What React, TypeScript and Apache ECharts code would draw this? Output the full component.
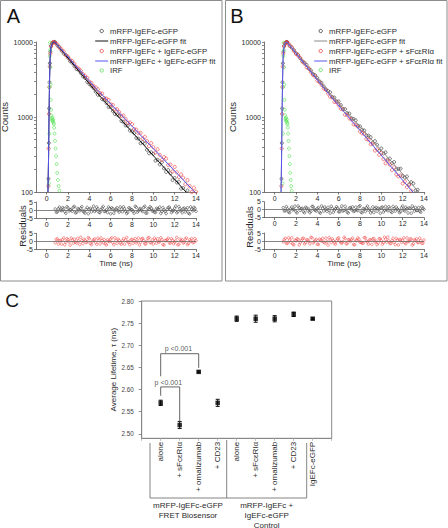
import React, { useEffect, useRef } from "react";
import * as echarts from "echarts";

// ---------------- data ----------------
const X_TICKS = [0, 2, 4, 6, 8, 10, 12, 14];
const COUNT_LABELS = [100, 1000, 10000];
const COUNT_TICKS = [100, 200, 300, 400, 500, 600, 700, 800, 900, 1000, 2000, 3000, 4000, 5000, 6000, 7000, 8000, 9000, 10000];
const C_Y_TICKS = [2.5, 2.55, 2.6, 2.65, 2.7, 2.75, 2.8];

const LEGEND_A = ["mRFP-IgEFc-eGFP", "mRFP-IgEFc-eGFP fit", "mRFP-IgEFc + IgEFc-eGFP", "mRFP-IgEFc + IgEFc-eGFP fit", "IRF"];
const LEGEND_B = ["mRFP-IgEFc-eGFP", "mRFP-IgEFc-eGFP fit", "mRFP-IgEFc-eGFP + sFcεRIα", "mRFP-IgEFc-eGFP + sFcεRIα fit", "IRF"];

const DECAY_TIME_A = [0.8, 1, 1.2, 1.4, 1.6, 1.8, 2, 2.2, 2.4, 2.6, 2.8, 3, 3.2, 3.4, 3.6, 3.8, 4, 4.2, 4.4, 4.6, 4.8, 5, 5.2, 5.4, 5.6, 5.8, 6, 6.2, 6.4, 6.6, 6.8, 7, 7.2, 7.4, 7.6, 7.8, 8, 8.2, 8.4, 8.6, 8.8, 9, 9.2, 9.4, 9.6, 9.8, 10, 10.2, 10.4, 10.6, 10.8, 11, 11.2, 11.4, 11.6, 11.8, 12, 12.2, 12.4, 12.6, 12.8, 13, 13.2, 13.4, 13.6, 13.8, 14];
const DECAY_TIME_B = [1.2, 1.4, 1.6, 1.8, 2, 2.2, 2.4, 2.6, 2.8, 3, 3.2, 3.4, 3.6, 3.8, 4, 4.2, 4.4, 4.6, 4.8, 5, 5.2, 5.4, 5.6, 5.8, 6, 6.2, 6.4, 6.6, 6.8, 7, 7.2, 7.4, 7.6, 7.8, 8, 8.2, 8.4, 8.6, 8.8, 9, 9.2, 9.4, 9.6, 9.8, 10, 10.2, 10.4, 10.6, 10.8, 11, 11.2, 11.4, 11.6, 11.8, 12, 12.2, 12.4, 12.6, 12.8, 13, 13.2, 13.4, 13.6, 13.8, 14];
const RESID_TIME = DECAY_TIME_A;
const RESID_TIME_MID = [0.9, 1.1, 1.3, 1.5, 1.7, 1.9, 2.1, 2.3, 2.5, 2.7, 2.9, 3.1, 3.3, 3.5, 3.7, 3.9, 4.1, 4.3, 4.5, 4.7, 4.9, 5.1, 5.3, 5.5, 5.7, 5.9, 6.1, 6.3, 6.5, 6.7, 6.9, 7.1, 7.3, 7.5, 7.7, 7.9, 8.1, 8.3, 8.5, 8.7, 8.9, 9.1, 9.3, 9.5, 9.7, 9.9, 10.1, 10.3, 10.5, 10.7, 10.9, 11.1, 11.3, 11.5, 11.7, 11.9, 12.1, 12.3, 12.5, 12.7, 12.9, 13.1, 13.3, 13.5, 13.7, 13.9];

// Panel A
const A_K_RISE = [[0.17, 150], [0.2, 450], [0.23, 1300], [0.26, 2900], [0.3, 5200], [0.35, 7400], [0.42, 8900], [0.5, 9600], [0.6, 9900], [0.7, 10000]];
const A_K_DECAY = [9990, 8966, 8537, 7658, 7006, 6673, 6167, 5530, 5267, 4772, 4365, 4199, 3842, 3481, 3314, 2943, 2747, 2591, 2417, 2168, 1975, 1969, 1724, 1685, 1536, 1357, 1353, 1198, 1091, 1077, 1030, 885, 856, 772, 762, 661, 646, 607, 525, 514, 445, 462, 442, 365, 328, 338, 323, 261, 269, 233, 249, 206, 185, 196, 177, 144, 154, 134, 137, 111, 113, 95, 105, 84, 87, 70, 72];
const A_K_FIT = [[0.12, 100], [0.18, 300], [0.22, 1000], [0.27, 3000], [0.32, 6000], [0.4, 8500], [0.5, 9500], [0.62, 9950], [0.75, 10000], [4.6, 2190], [14, 71]];
const A_R_RISE = [[0.16, 120], [0.19, 380], [0.22, 1100], [0.25, 2500], [0.29, 4700], [0.34, 7000], [0.41, 8700], [0.49, 9500], [0.59, 9900], [0.69, 10000]];
const A_R_DECAY = [9722, 9306, 8392, 7955, 7464, 6663, 6380, 5810, 5562, 5117, 4613, 4417, 4144, 3737, 3543, 3324, 2967, 2841, 2588, 2477, 2335, 2074, 2055, 1790, 1756, 1688, 1471, 1443, 1256, 1270, 1163, 1032, 1044, 937, 840, 841, 800, 691, 678, 608, 613, 514, 545, 476, 410, 448, 395, 336, 371, 312, 268, 291, 279, 228, 232, 188, 216, 183, 158, 171, 155, 127, 144, 120, 100, 114, 101];
const A_R_FIT = [[0.12, 100], [0.18, 300], [0.22, 1000], [0.27, 3000], [0.32, 6000], [0.4, 8500], [0.5, 9500], [0.62, 9950], [0.75, 10000], [4.6, 2428], [14, 96]];
const A_IRF = [[0.22, 130], [0.25, 600], [0.27, 2500], [0.29, 6500], [0.31, 9800], [0.33, 7800], [0.35, 4600], [0.37, 2700], [0.39, 1700], [0.42, 1250], [0.45, 1050], [0.48, 950], [0.52, 900], [0.55, 980], [0.58, 870], [0.61, 920], [0.64, 840], [0.67, 800], [0.7, 720], [0.74, 600], [0.78, 480], [0.83, 380], [0.88, 300], [0.93, 235], [0.99, 180], [1.05, 145], [1.12, 120], [1.2, 104]];
const A_K_RESID = [0.6, -1.2, 1.8, -0.4, 0.9, -2.1, 1.3, 0.2, -0.8, 2.2, -1.5, 0.4, 1.1, -0.6, -1.9, 1.6, 0.3, -1.1, 2.4, -0.2, 0.7, -1.6, 1.2, -0.9, 0.1, 1.9, -2.3, 0.8, -0.3, 1.4, -1.3, 0.5, 2.0, -0.7, -1.4, 1.0, 0.2, -2.0, 1.7, -0.5, 0.9, -1.0, 2.3, -1.8, 0.4, 1.2, -0.2, -1.5, 0.6, 1.8, -0.9, 0.1, -2.2, 1.5, 0.3, -0.6, 1.1, -1.7, 2.1, -0.4, 0.8, -1.2, 1.4, -2.4, 0.5, 1.6, -0.8];
const A_K_RESID_MID = [-1.4, 0.8, -0.2, 1.5, -1.0, 2.0, -0.6, 0.3, 1.7, -1.8, 0.9, -0.5, 2.1, -1.2, 0.4, -2.3, 1.0, 0.6, -0.9, 1.8, -1.5, 0.2, 2.2, -0.7, -1.6, 0.9, 1.3, -2.0, 0.5, -0.4, 1.9, -1.1, 0.7, -2.2, 1.4, 0.1, -0.8, 2.3, -1.3, 0.6, -0.2, 1.6, -1.9, 0.8, 2.0, -0.6, -1.4, 1.1, 0.3, -2.1, 1.5, -0.9, 0.4, 1.8, -1.6, -0.3, 2.4, -1.0, 0.7, -1.7, 1.2, 0.0, -2.0, 1.9, -0.5, 1.0];
const A_R_RESID = [-0.9, 1.5, 0.3, -1.8, 2.1, -0.5, 1.0, -2.4, 0.7, 1.3, -1.1, 0.2, 2.5, -1.4, 0.6, -0.3, 1.7, -2.0, 0.9, -0.7, 1.9, -1.6, 0.4, 1.1, -2.2, 0.0, 1.4, -0.8, 2.2, -1.3, 0.5, -1.9, 1.6, 0.8, -0.4, -2.1, 1.2, 0.3, -1.0, 2.0, -0.6, 1.8, -1.5, 0.1, 2.3, -0.9, -1.7, 0.7, 1.5, -0.2, 1.0, -2.3, 0.4, 1.9, -1.2, 0.6, -0.5, 2.4, -1.8, 0.2, -1.0, 1.3, -2.0, 0.9, 1.7, -0.6, 0.3];
const A_R_RESID_MID = [1.1, -1.7, 0.5, 0.9, -2.2, 1.6, -0.3, 2.0, -1.1, -0.5, 1.8, -2.0, 0.3, 1.2, -0.8, 2.3, -1.4, 0.0, 1.5, -1.9, 0.7, 2.1, -0.9, -1.5, 1.0, -0.2, 2.2, -2.1, 0.6, 1.3, -1.0, 0.2, -1.8, 2.4, -0.6, 0.9, -1.3, 1.7, -0.1, -2.3, 1.4, 0.4, -1.6, 2.0, -0.7, 0.8, 1.9, -1.2, -0.4, 2.2, -2.0, 0.5, 1.1, -0.9, 1.6, -1.5, 0.3, -2.2, 1.3, 0.9, -0.6, 2.1, -1.4, 0.2, -0.8, 1.7];

// Panel B
const B_K_RISE = [[0.64, 150], [0.67, 450], [0.7, 1300], [0.73, 2900], [0.77, 5200], [0.82, 7400], [0.89, 8900], [0.97, 9600], [1.07, 9900], [1.15, 10000]];
const B_K_DECAY = [9904, 8885, 8466, 7828, 7093, 6758, 6064, 5550, 5288, 4938, 4431, 4179, 3749, 3608, 3304, 2994, 2852, 2559, 2342, 2232, 2137, 1854, 1813, 1619, 1613, 1442, 1275, 1272, 1125, 1111, 963, 941, 901, 766, 749, 676, 661, 567, 566, 537, 456, 477, 427, 355, 381, 326, 338, 271, 279, 242, 251, 200, 204, 205, 164, 156, 161, 126, 135, 130, 105, 107, 89, 98, 82];
const B_K_FIT = [[0.6, 100], [0.65, 300], [0.69, 1000], [0.74, 3000], [0.79, 6000], [0.87, 8500], [0.97, 9500], [1.07, 9950], [1.15, 10000], [5.0, 2210], [14, 84]];
const B_R_RISE = [[0.63, 120], [0.66, 380], [0.69, 1100], [0.72, 2500], [0.76, 4700], [0.81, 7000], [0.88, 8700], [0.96, 9500], [1.06, 9900], [1.14, 10000]];
const B_R_DECAY = [9700, 9120, 8488, 7593, 6928, 6580, 6124, 5478, 5150, 4606, 4418, 3952, 3642, 3459, 3063, 2909, 2681, 2397, 2299, 2057, 1867, 1820, 1587, 1577, 1433, 1288, 1267, 1072, 1066, 959, 924, 798, 785, 743, 641, 607, 596, 510, 497, 433, 439, 357, 370, 313, 333, 275, 241, 260, 232, 196, 213, 172, 162, 166, 130, 138, 116, 123, 104, 89, 96, 87, 72, 76, 62];
const B_R_FIT = [[0.6, 100], [0.65, 300], [0.69, 1000], [0.74, 3000], [0.79, 6000], [0.87, 8500], [0.97, 9500], [1.07, 9950], [1.15, 10000], [5.0, 2078], [14, 67]];
const B_IRF = [[0.75, 130], [0.78, 600], [0.8, 2500], [0.82, 6500], [0.84, 9800], [0.86, 7800], [0.88, 4600], [0.9, 2700], [0.92, 1700], [0.95, 1250], [0.98, 1050], [1.01, 950], [1.05, 900], [1.08, 980], [1.11, 870], [1.14, 920], [1.17, 840], [1.2, 800], [1.23, 720], [1.26, 600], [1.3, 480], [1.34, 380], [1.38, 300], [1.42, 235], [1.46, 180], [1.5, 145], [1.55, 120], [1.6, 104]];
const B_K_RESID = [1.2, -0.7, 0.4, -1.9, 1.6, 0.1, -1.3, 2.2, -0.5, 0.8, -2.0, 1.0, 0.3, -1.1, 1.9, -0.4, 0.6, -1.7, 2.3, -0.9, 0.2, 1.4, -2.2, 0.7, -0.3, 1.8, -1.4, 0.5, -0.8, 2.1, -1.6, 0.9, 0.0, -1.2, 1.5, -0.6, 2.4, -1.9, 0.3, 1.1, -0.4, -2.1, 1.7, 0.6, -1.0, 0.2, 1.3, -1.5, 2.0, -0.7, 0.8, -1.8, 0.4, 1.6, -0.2, -1.3, 2.2, -0.9, 0.5, 1.0, -2.3, 0.7, 1.4, -0.5, -1.1, 1.8, 0.1];
const B_K_RESID_MID = [-0.8, 1.9, -1.5, 0.4, -0.1, 2.2, -2.0, 1.1, 0.6, -1.3, 1.5, -0.6, -1.9, 2.0, 0.2, -0.9, 1.3, -2.2, 0.8, 1.6, -1.1, -0.3, 2.1, -1.7, 0.5, 0.9, -1.4, 2.3, -0.5, 0.1, -2.1, 1.2, 1.7, -0.8, -0.2, 1.9, -1.6, 0.6, -1.2, 2.2, 0.3, -0.7, -1.8, 1.4, 0.9, -2.3, 1.6, -0.4, 0.0, 1.8, -1.3, 2.0, -0.9, 0.4, -1.9, 1.1, -0.2, 1.5, -2.1, 0.7, 2.3, -1.0, -0.5, 1.3, -1.6, 0.8];
const B_R_RESID = [-0.4, 1.7, -1.3, 0.6, 2.0, -2.2, 0.3, 1.1, -0.8, 1.5, -1.7, 0.9, -0.1, 2.3, -1.0, 0.5, -1.9, 1.2, 0.0, -0.6, 1.8, -2.4, 0.7, 1.4, -1.2, 0.2, 2.1, -0.9, -0.3, 1.6, -1.5, 0.8, 1.0, -2.0, 0.4, 1.9, -0.7, -1.1, 2.2, 0.1, -1.8, 0.6, 1.3, -0.5, -2.1, 1.5, 0.3, -0.9, 1.1, 2.4, -1.4, 0.2, -0.6, 1.7, -2.3, 0.9, 0.5, -1.0, 2.0, -0.2, 1.2, -1.6, 0.4, -0.8, 1.8, -1.3, 0.7];
const B_R_RESID_MID = [0.9, -1.4, 2.1, -0.6, -1.8, 0.5, 1.4, -2.3, 0.2, 1.8, -0.9, 0.7, -1.6, 2.0, -0.3, 1.1, -2.0, 0.6, 1.7, -1.2, -0.4, 2.2, -0.8, 0.3, -1.9, 1.5, 0.0, -1.1, 2.3, -1.5, 0.8, -0.2, 1.9, -2.2, 0.4, 1.2, -0.7, -1.3, 2.1, -0.5, 0.9, -2.0, 1.6, 0.1, -1.0, 1.4, -1.8, 2.4, -0.6, 0.2, -1.4, 1.7, -2.1, 0.6, 1.0, -0.8, 2.0, -1.6, -0.1, 1.3, -2.4, 0.7, 1.5, -0.9, 0.3, -1.2];

// Panel C
const C_CATEGORIES = ["alone", "+ sFcεRIα", "+ omalizumab", "+ CD23", "alone", "+ sFcεRIα", "+ omalizumab", "+ CD23", "IgEFc-eGFP"];
const C_POSITIONS = [1, 2, 3, 4, 5, 6, 7, 8, 9];
const C_MEANS = [2.57, 2.52, 2.64, 2.57, 2.76, 2.76, 2.76, 2.77, 2.76];
const C_ERRORS = [0.006, 0.008, 0.002, 0.008, 0.006, 0.008, 0.007, 0.005, 0.002];
const BRACKET_1 = [[1, 2.586], [1, 2.606], [2, 2.606], [2, 2.528]];
const BRACKET_2 = [[1, 2.63], [1, 2.681], [3, 2.681], [3, 2.649]];
const P_LABELS = [
  { text: "p <0.001", pos: [1.4, 2.617] },
  { text: "p <0.001", pos: [1.93, 2.692] },
];
const GROUP_LABELS = ["mRFP-IgEFc-eGFP\nFRET Biosensor", "mRFP-IgEFc +\nIgEFc-eGFP\nControl"];

// ---------------- styling ----------------
const FONT = "'Liberation Sans', Arial, Helvetica, sans-serif";
const AXIS = "#555";
const TXT = "#2a2a2a";
const BLACK_C = "#333333";
const RED_C = "#f03a3a";
const BLUE_L = "#5656ee";
const GREEN_C = "#4ee04e";

const zip = (xs: number[], ys: number[]) => ys.slice(0, xs.length).map((y, i) => [xs[i], y]);

function timeAxis(gridIndex: number, name?: string) {
  return {
    type: "value",
    gridIndex,
    min: -1,
    max: 14,
    name: name || "",
    nameLocation: "middle",
    nameGap: 9,
    nameTextStyle: { fontSize: 8, color: TXT, fontFamily: FONT },
    axisLine: { show: true, onZero: false, lineStyle: { color: AXIS, width: 0.8 } },
    axisTick: { show: true, customValues: X_TICKS, length: 2.5, lineStyle: { color: AXIS, width: 0.8 } },
    axisLabel: { customValues: X_TICKS, fontSize: 7, color: TXT, margin: 2.5, fontFamily: FONT },
    splitLine: { show: false },
  };
}

function countAxis(gridIndex: number, nameGap: number) {
  return {
    type: "log",
    gridIndex,
    logBase: 10,
    min: 100,
    max: 10000,
    name: "Counts",
    nameLocation: "middle",
    nameRotate: 90,
    nameGap,
    nameTextStyle: { fontSize: 9.5, color: TXT, fontFamily: FONT },
    axisLine: { show: true, onZero: false, lineStyle: { color: AXIS, width: 0.8 } },
    axisTick: { show: true, customValues: COUNT_TICKS, length: 2, lineStyle: { color: AXIS, width: 0.7 } },
    axisLabel: { customValues: COUNT_LABELS, formatter: (v: number) => String(Math.round(v)), fontSize: 7, color: TXT, margin: 3, fontFamily: FONT },
    splitLine: { show: false },
  };
}

function residAxis(gridIndex: number) {
  return {
    type: "value",
    gridIndex,
    min: -5,
    max: 5,
    interval: 5,
    axisLine: { show: true, onZero: false, lineStyle: { color: AXIS, width: 0.8 } },
    axisTick: { show: true, length: 2, lineStyle: { color: AXIS, width: 0.7 } },
    axisLabel: { fontSize: 7, color: TXT, margin: 3, fontFamily: FONT },
    splitLine: { show: false },
  };
}

const hollow = (color: string, size: number, bw: number) => ({
  symbol: "circle",
  symbolSize: size,
  itemStyle: { color: "rgba(255,255,255,0)", borderColor: color, borderWidth: bw },
});

function scatter(name: string, axis: number, data: number[][], color: string, size = 3, bw = 0.7, extra: any = {}) {
  return { type: "scatter", name, xAxisIndex: axis, yAxisIndex: axis, data, silent: true, clip: true, ...hollow(color, size, bw), ...extra };
}
function fitLine(name: string, axis: number, data: number[][], color: string) {
  return { type: "line", name, xAxisIndex: axis, yAxisIndex: axis, data, symbol: "none", silent: true, clip: true, lineStyle: { color, width: 1 } };
}
const zeroLine = {
  silent: true,
  symbol: "none",
  label: { show: false },
  lineStyle: { color: "#666", width: 0.8, type: "solid" },
  data: [{ yAxis: 0 }],
};

function legendGraphics(names: string[], colors: string[], kinds: string[], symX: number, textX: number, rows: number[]) {
  const els: any[] = [];
  names.forEach((name, i) => {
    const y = rows[i];
    if (kinds[i] === "c") {
      els.push({ type: "circle", z: 100, shape: { cx: symX, cy: y, r: 1.7 }, style: { fill: "none", stroke: colors[i], lineWidth: 0.8 } });
    } else {
      els.push({ type: "line", z: 100, shape: { x1: symX - 6.5, y1: y, x2: symX + 6.5, y2: y }, style: { stroke: colors[i], lineWidth: 1 } });
    }
    els.push({ type: "text", z: 100, x: textX, y, style: { text: name, fontSize: 7.8, fill: TXT, fontFamily: FONT, align: "left", verticalAlign: "middle" } });
  });
  return els;
}

function txt(text: string, x: number, y: number, fontSize: number, extra: any = {}) {
  return { type: "text", z: 100, x, y, ...extra, style: { text, fontSize, fill: TXT, fontFamily: FONT, align: "center", verticalAlign: "middle", ...(extra.style || {}) } };
}

function buildOption() {
  const grids = [
    { left: 36, top: 42, width: 160, height: 150 },
    { left: 36, top: 202, width: 160, height: 16 },
    { left: 36, top: 233.3, width: 160, height: 16 },
    { left: 264, top: 42, width: 160, height: 150 },
    { left: 264, top: 201.7, width: 160, height: 15.8 },
    { left: 264, top: 233, width: 160, height: 16.3 },
    { left: 141.7, top: 301, width: 190, height: 137.3, show: true, borderColor: "#888", borderWidth: 1, backgroundColor: "rgba(0,0,0,0)" },
  ].map((g) => ({ ...g, containLabel: false, outerBoundsMode: "none" }));

  const xAxis: any[] = [
    timeAxis(0), timeAxis(1), timeAxis(2, "Time (ns)"),
    timeAxis(3), timeAxis(4), timeAxis(5, "Time (ns)"),
    {
      type: "value", gridIndex: 6, min: 0, max: 10, interval: 1,
      axisLine: { show: true, onZero: false, lineStyle: { color: "#888", width: 1 } },
      axisTick: { show: true, length: 2.5, lineStyle: { color: "#aaa", width: 0.8 } },
      axisLabel: {
        rotate: 90, fontSize: 8, color: TXT, margin: 3.5, fontFamily: FONT,
        formatter: (v: number) => C_CATEGORIES[Math.round(v) - 1] ?? "",
      },
      splitLine: { show: false },
    },
  ];
  const yAxis: any[] = [
    countAxis(0, 18), residAxis(1), residAxis(2),
    countAxis(3, 20), residAxis(4), residAxis(5),
    {
      type: "value", gridIndex: 6, min: 2.49, max: 2.8,
      name: "Average Lifetime, τ (ns)", nameLocation: "middle", nameRotate: 90, nameGap: 24.5,
      nameTextStyle: { fontSize: 8, color: TXT, fontFamily: FONT },
      axisLine: { show: true, onZero: false, lineStyle: { color: "#888", width: 1 } },
      axisTick: { show: true, customValues: C_Y_TICKS, length: 3, lineStyle: { color: "#777", width: 0.8 } },
      axisLabel: { customValues: C_Y_TICKS, formatter: (v: number) => v.toFixed(2), fontSize: 6.3, color: "#444", margin: 8, fontFamily: FONT },
      splitLine: { show: false },
    },
  ];

  const series: any[] = [
    // Panel A main
    scatter(LEGEND_A[0], 0, [...A_K_RISE, ...zip(DECAY_TIME_A, A_K_DECAY)], BLACK_C, 3, 0.8),
    fitLine(LEGEND_A[1], 0, A_K_FIT, "#111"),
    scatter(LEGEND_A[2], 0, [...A_R_RISE, ...zip(DECAY_TIME_A, A_R_DECAY)], RED_C, 3.2, 0.8),
    fitLine(LEGEND_A[3], 0, A_R_FIT, BLUE_L),
    scatter(LEGEND_A[4], 0, A_IRF, GREEN_C, 3, 0.8),
    // Panel A residuals
    scatter("A resid 1", 1, [...zip(RESID_TIME, A_K_RESID), ...zip(RESID_TIME_MID, A_K_RESID_MID)], BLACK_C, 2.6, 0.7, { markLine: zeroLine }),
    scatter("A resid 2", 2, [...zip(RESID_TIME, A_R_RESID), ...zip(RESID_TIME_MID, A_R_RESID_MID)], RED_C, 2.6, 0.7, { markLine: zeroLine }),
    // Panel B main
    scatter(LEGEND_B[0], 3, [...B_K_RISE, ...zip(DECAY_TIME_B, B_K_DECAY)], BLACK_C, 3, 0.8),
    fitLine(LEGEND_B[1], 3, B_K_FIT, "#8a8a8a"),
    scatter(LEGEND_B[2], 3, [...B_R_RISE, ...zip(DECAY_TIME_B, B_R_DECAY)], RED_C, 3.2, 0.8),
    fitLine(LEGEND_B[3], 3, B_R_FIT, BLUE_L),
    scatter(LEGEND_B[4], 3, B_IRF, GREEN_C, 3, 0.8),
    // Panel B residuals
    scatter("B resid 1", 4, [...zip(RESID_TIME, B_K_RESID), ...zip(RESID_TIME_MID, B_K_RESID_MID)], BLACK_C, 2.6, 0.7, { markLine: zeroLine }),
    scatter("B resid 2", 5, [...zip(RESID_TIME, B_R_RESID), ...zip(RESID_TIME_MID, B_R_RESID_MID)], RED_C, 2.6, 0.7, { markLine: zeroLine }),
    // Panel C
    {
      type: "custom", xAxisIndex: 6, yAxisIndex: 6, silent: true,
      data: C_MEANS.map((m, i) => [C_POSITIONS[i], m, C_ERRORS[i]]),
      encode: { x: 0, y: 1 },
      renderItem: (_p: any, api: any) => {
        const x = api.value(0), y = api.value(1), e = api.value(2);
        const top = api.coord([x, y + e]);
        const bot = api.coord([x, y - e]);
        const hw = 2;
        const style = { stroke: "#111", lineWidth: 1 };
        return {
          type: "group",
          children: [
            { type: "line", shape: { x1: top[0], y1: top[1], x2: bot[0], y2: bot[1] }, style },
            { type: "line", shape: { x1: top[0] - hw, y1: top[1], x2: top[0] + hw, y2: top[1] }, style },
            { type: "line", shape: { x1: bot[0] - hw, y1: bot[1], x2: bot[0] + hw, y2: bot[1] }, style },
          ],
        };
      },
    },
    {
      type: "scatter", xAxisIndex: 6, yAxisIndex: 6, silent: true, z: 5,
      data: C_MEANS.map((m, i) => [C_POSITIONS[i], m]),
      symbol: "rect", symbolSize: 4.5, itemStyle: { color: "#000" },
    },
    { type: "line", xAxisIndex: 6, yAxisIndex: 6, data: BRACKET_1, symbol: "none", silent: true, lineStyle: { color: "#555", width: 0.9 } },
    { type: "line", xAxisIndex: 6, yAxisIndex: 6, data: BRACKET_2, symbol: "none", silent: true, lineStyle: { color: "#555", width: 0.9 } },
    {
      type: "scatter", xAxisIndex: 6, yAxisIndex: 6, silent: true, symbolSize: 0,
      data: P_LABELS.map((p) => ({ value: p.pos, label: { formatter: p.text } })),
      label: { show: true, position: "inside", fontSize: 7, color: TXT, fontFamily: FONT },
    },
  ];

  const graphic: any[] = [
    // panel frames
    { type: "rect", z: 0, shape: { x: 0.5, y: 0.5, width: 221.5, height: 280.5 }, style: { fill: "none", stroke: "#8c8c8c", lineWidth: 1 } },
    { type: "rect", z: 0, shape: { x: 225.5, y: 0.5, width: 221.5, height: 280.5 }, style: { fill: "none", stroke: "#8c8c8c", lineWidth: 1 } },
    // panel letters
    txt("A", 13.5, 16, 20, { style: { fill: "#111" } }),
    txt("B", 237, 16, 20, { style: { fill: "#111" } }),
    txt("C", 12, 300, 19, { style: { fill: "#111" } }),
    // residual axis titles
    txt("Residuals", 22, 226, 9.5, { rotation: Math.PI / 2 }),
    txt("Residuals", 249, 227, 9.5, { rotation: Math.PI / 2 }),
    // legends
    ...legendGraphics(LEGEND_A, [BLACK_C, "#111", RED_C, BLUE_L, GREEN_C], ["c", "l", "c", "l", "c"], 101.7, 110, [31, 41, 51, 61, 70.5]),
    ...legendGraphics(LEGEND_B, [BLACK_C, "#8a8a8a", RED_C, BLUE_L, GREEN_C], ["c", "l", "c", "l", "c"], 320.7, 329, [31, 41, 51, 61, 70]),
    // group brackets in panel C
    { type: "polyline", z: 50, shape: { points: [[150, 443], [150, 498], [306.7, 498], [306.7, 443]] }, style: { fill: "none", stroke: "#666", lineWidth: 0.8 } },
    { type: "line", z: 50, shape: { x1: 226.7, y1: 440, x2: 226.7, y2: 498 }, style: { stroke: "#666", lineWidth: 0.8 } },
    txt(GROUP_LABELS[0], 188, 510, 8, { style: { lineHeight: 10 } }),
    txt(GROUP_LABELS[1], 266.7, 515, 8, { style: { lineHeight: 10 } }),
  ];

  return {
    animation: false,
    backgroundColor: "#ffffff",
    textStyle: { fontFamily: FONT },
    grid: grids,
    xAxis,
    yAxis,
    series,
    graphic,
  };
}

export default function App() {
  const ref = useRef<HTMLDivElement>(null);
  useEffect(() => {
    if (!ref.current) return;
    const chart = echarts.init(ref.current, undefined, { renderer: "svg" });
    chart.setOption(buildOption() as any);
    return () => chart.dispose();
  }, []);
  return (
    <div
      ref={ref}
      style={{ position: "fixed", left: 0, top: 0, width: 448, height: 528, background: "#fff" }}
    />
  );
}
